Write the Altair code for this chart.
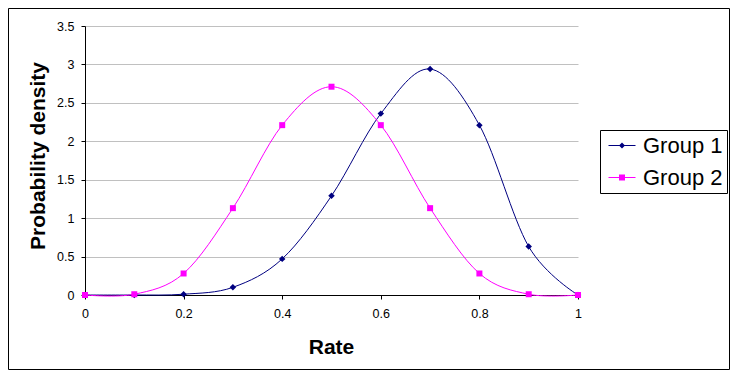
import altair as alt
import pandas as pd

# ---- data ----
rate = [0.0, 0.1, 0.2, 0.3, 0.4, 0.5, 0.6, 0.7, 0.8, 0.9, 1.0]
group1 = [0.0, 0.0, 0.01, 0.10, 0.47, 1.29, 2.36, 2.94, 2.21, 0.63, 0.0]
group2 = [0.0, 0.01, 0.28, 1.13, 2.21, 2.71, 2.21, 1.13, 0.28, 0.01, 0.0]
groups = ["Group 1", "Group 2"]
colors = ["#000080", "#FF00FF"]
marker_shapes = ["diamond", "square"]
x_ticks = [0, 0.2, 0.4, 0.6, 0.8, 1.0]
y_ticks = [0, 0.5, 1, 1.5, 2, 2.5, 3, 3.5]

df = pd.DataFrame({
    "rate": rate + rate,
    "density": group1 + group2,
    "group": [groups[0]] * len(rate) + [groups[1]] * len(rate),
})

FONT = "Liberation Sans, Arial, sans-serif"

x_enc = alt.X(
    "rate:Q",
    scale=alt.Scale(domain=[0, 1], nice=False, zero=False),
    axis=alt.Axis(
        values=x_ticks, format="~g", title="Rate", grid=False,
        domainColor="black", domainWidth=1, tickColor="black", tickSize=4,
        labelFont=FONT, labelFontSize=12.5, labelColor="black", labelPadding=8,
        labelFlush=False, labelOverlap=False,
        titleFont=FONT, titleFontSize=21, titleFontWeight="bold", titleColor="black",
        titleX=246, titleY=58, titleAlign="center", titleBaseline="alphabetic",
    ),
)
y_enc = alt.Y(
    "density:Q",
    scale=alt.Scale(domain=[0, 3.5], nice=False),
    axis=alt.Axis(
        values=y_ticks, format="~g", title="Probability density", grid=True,
        gridColor="#C0C0C0", gridWidth=1,
        domainColor="black", domainWidth=1, tickColor="black", tickSize=4,
        labelFont=FONT, labelFontSize=12.5, labelColor="black", labelPadding=7,
        labelFlush=False, labelOverlap=False,
        titleFont=FONT, titleFontSize=21, titleFontWeight="bold", titleColor="black",
        titleAngle=270, titleX=-40.5, titleY=129.5, titleAlign="center",
        titleBaseline="alphabetic",
    ),
)

layers = []
sizes = [42, 36]
for g, c, shp, sz in zip(groups, colors, marker_shapes, sizes):
    base = alt.Chart(df).transform_filter(alt.datum.group == g)
    layers.append(base.mark_line(interpolate="cardinal", strokeWidth=1, color=c).encode(x=x_enc, y=y_enc))
    layers.append(base.mark_point(shape=shp, filled=True, size=sz, color=c, opacity=1).encode(x=x_enc, y=y_enc))

# legend symbols: short line with the marker in its middle
legend_paths = [
    "M-1.35,-0.05H1.35V0.05H-1.35Z M0,-0.3L0.3,0L0,0.3L-0.3,0Z",
    "M-1.35,-0.05H1.35V0.05H-1.35Z M-0.3,-0.3H0.3V0.3H-0.3Z",
]
legend = alt.Legend(
    orient="none", legendX=515, legendY=104, title=None,
    strokeColor="black", fillColor="white", padding=4.5,
    labelFont=FONT, labelFontSize=22, labelColor="black",
    symbolSize=400, symbolOffset=6.5, labelOffset=10, rowPadding=10,
    symbolStrokeWidth=0,
)
legend_layer = alt.Chart(df).transform_filter("false").mark_point(filled=True, opacity=1).encode(
    x=x_enc, y=y_enc,
    color=alt.Color("group:N", scale=alt.Scale(domain=groups, range=colors), legend=legend),
    shape=alt.Shape("group:N", scale=alt.Scale(domain=groups, range=legend_paths), legend=legend),
)

frame = alt.Chart(pd.DataFrame({"k": [0]})).mark_rect(
    fill="transparent", stroke="black", strokeWidth=1
).encode(
    x=alt.value(-76.5), x2=alt.value(644.5), y=alt.value(-17.5), y2=alt.value(343.5)
)

chart = alt.layer(frame, *layers, legend_layer).properties(
    width=493, height=269,
    autosize=alt.AutoSizeParams(type="none"),
    padding={"left": 77, "top": 18, "right": 152, "bottom": 75},
    background="white",
).configure_view(strokeWidth=0)

chart.save("out.html", embed_options={"renderer": "svg", "actions": False})
